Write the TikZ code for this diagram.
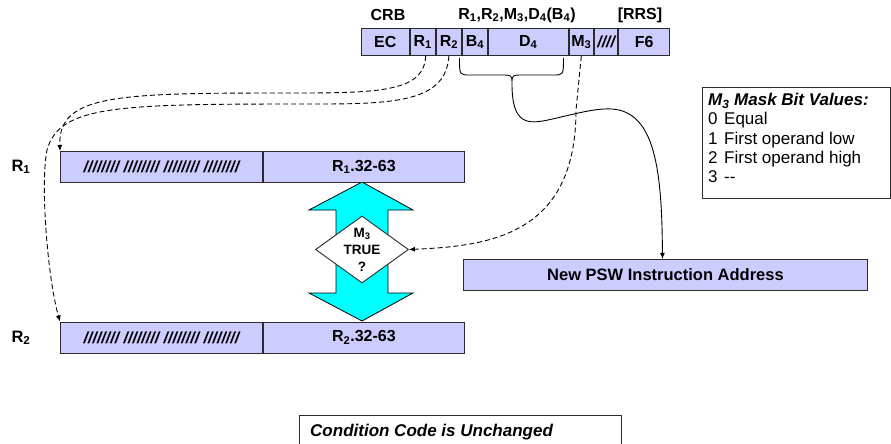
\documentclass[tikz,border=0pt]{standalone}
\usepackage{fontspec}
\setmainfont{Liberation Sans}
\usetikzlibrary{arrows.meta,shapes.geometric}

\definecolor{fieldfill}{HTML}{CCCCFF}
\definecolor{edge}{HTML}{2B2B2B}
\definecolor{flow}{HTML}{00FFFF}

\tikzset{
  fieldbox/.style={draw=edge, fill=fieldfill, line width=0.9pt, inner sep=0pt,
    anchor=north west, minimum height=27pt,
    font=\bfseries\fontsize{16}{18}\selectfont},
  regbox/.style={draw=edge, fill=fieldfill, line width=0.9pt, inner sep=0pt,
    anchor=north west, minimum height=31pt,
    font=\bfseries\fontsize{16}{18}\selectfont},
  toplabel/.style={inner sep=0pt, font=\bfseries\fontsize{16}{18}\selectfont},
  sidelabel/.style={inner sep=0pt, font=\bfseries\fontsize{16.5}{18}\selectfont},
  framebox/.style={draw=edge, fill=white, line width=0.9pt, inner sep=0pt,
    anchor=north west},
  decision/.style={diamond, draw=edge, fill=white, line width=0.9pt,
    inner sep=0pt, minimum width=93pt, minimum height=67pt},
  dashline/.style={draw=black, line width=0.9pt, dash pattern=on 5pt off 3pt,
    -{Latex[length=6pt,width=5pt]}},
  solidline/.style={draw=black, line width=0.9pt,
    -{Latex[length=6pt,width=5pt]}},
}

\begin{document}
\begin{tikzpicture}[x=1pt,y=-1pt]
\clip (0,0) rectangle (891,444);
\fill[white] (0,0) rectangle (891,444);

% instruction format labels
\node[toplabel] (crb) at (388,15) {CRB};
\node[toplabel] (ops) at (517,15) {R\textsubscript{1},R\textsubscript{2},M\textsubscript{3},D\textsubscript{4}(B\textsubscript{4})};
\node[toplabel] (rrs) at (640,15) {[RRS]};

% instruction fields
\node[fieldbox, minimum width=47.7pt] (ecf) at (361,28) {EC};
\node[fieldbox, minimum width=25.3pt] (r1f) at (ecf.north east) {R\textsubscript{1}};
\node[fieldbox, minimum width=25.3pt] (r2f) at (r1f.north east) {R\textsubscript{2}};
\node[fieldbox, minimum width=25pt]   (b4f) at (r2f.north east) {B\textsubscript{4}};
\node[fieldbox, minimum width=79.7pt] (d4f) at (b4f.north east) {D\textsubscript{4}};
\node[fieldbox, minimum width=24.7pt] (m3f) at (d4f.north east) {M\textsubscript{3}};
\node[fieldbox, minimum width=23.3pt] (rsv) at (m3f.north east) {\itshape ////};
\node[fieldbox, minimum width=50.7pt] (f6f) at (rsv.north east) {F6};

% brace under B4 and D4
\coordinate (bracetip) at (512,84);
\draw[line width=0.9pt, line join=round]
  (459.5,58) .. controls (459.5,75) .. (470,75) -- (501,75)
  .. controls (512,75) .. (bracetip)
  .. controls (512,75) .. (523,75) -- (553,75)
  .. controls (563.5,75) .. (563.5,58);

% compare/branch arrow
\draw[draw=black, fill=flow, line width=0.8pt, line join=miter]
  (362,182) -- (413,210) -- (388,210) -- (388,293) -- (413,293) -- (362,321)
  -- (309,293) -- (336,293) -- (336,210) -- (309,210) -- cycle;

% registers
\node[sidelabel] (r1name) at (21,167) {R\textsubscript{1}};
\node[regbox, minimum width=202pt, font=\bfseries\itshape\fontsize{16}{18}\selectfont] (r1hi) at (60,151) {//////// //////// //////// ////////};
\node[regbox, minimum width=201pt] (r1lo) at (r1hi.north east) {R\textsubscript{1}.32-63};

\node[sidelabel] (r2name) at (21,338) {R\textsubscript{2}};
\node[regbox, minimum width=202pt, font=\bfseries\itshape\fontsize{16}{18}\selectfont] (r2hi) at (60,321.5) {//////// //////// //////// ////////};
\node[regbox, minimum width=201pt] (r2lo) at (r2hi.north east) {R\textsubscript{2}.32-63};

% decision
\node[decision] (test) at (362,249.5) {};
\node[inner sep=0pt, align=center, font=\bfseries\fontsize{13.5}{17}\selectfont] (testtext) at (test.center) {M\textsubscript{3}\\TRUE\\?};

% branch target
\node[regbox, minimum width=404pt] (psw) at (463,259) {\fontsize{16.5}{18}\selectfont New PSW Instruction Address};

% mask legend
\node[framebox, minimum width=188pt, minimum height=111pt] (legend) at (702,87) {};
\node[anchor=north west, inner sep=0pt, align=left, font=\fontsize{17}{19.3}\selectfont] (legendtext) at (708,93)
  {\textbf{\textit{M\textsubscript{3} Mask Bit Values:}}\\
   \makebox[16pt][l]{0}Equal\\
   \makebox[16pt][l]{1}First operand low\\
   \makebox[16pt][l]{2}First operand high\\
   \makebox[16pt][l]{3}-{}-};

% condition code note
\node[framebox, minimum width=322pt, minimum height=40pt] (ccbox) at (299,415) {};
\node[anchor=west, inner sep=0pt, font=\bfseries\itshape\fontsize{17}{19}\selectfont] (cctext) at (310,432) {Condition Code is Unchanged};

% connectors
\draw[dashline] ([xshift=3pt]r1f.south) .. controls (424,90) and (385,93) .. (300,93)
  .. controls (120,93) and (58,93) .. (r1hi.north west);
\draw[dashline] (r2f.south) .. controls (446,100) and (400,104) .. (320,104)
  .. controls (120,104) and (60,104) .. (47,150)
  .. controls (40,185) and (48,280) .. (r2hi.north west);
\draw[dashline] (m3f.south) -- (576,110) .. controls (576,235) and (490,246) .. (test.east);
\draw[solidline] (bracetip) .. controls (512,125) and (528,124) .. (548,120)
  .. controls (575,114) and (595,108) .. (612,109)
  .. controls (655,112) and (662,170) .. ([xshift=-3pt]psw.north);
\end{tikzpicture}
\end{document}
